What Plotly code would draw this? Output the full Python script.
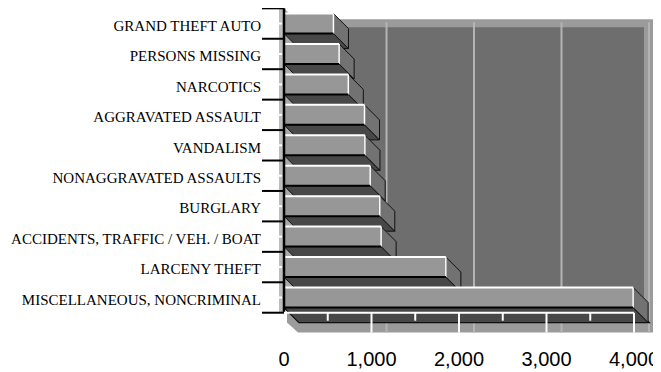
import plotly.graph_objects as go

# categories, top to bottom as they appear in the chart
categories = ["GRAND THEFT AUTO", "PERSONS MISSING", "NARCOTICS", "AGGRAVATED ASSAULT",
              "VANDALISM", "NONAGGRAVATED ASSAULTS", "BURGLARY",
              "ACCIDENTS, TRAFFIC / VEH. / BOAT", "LARCENY THEFT",
              "MISCELLANEOUS, NONCRIMINAL"]
counts = [565, 630, 735, 920, 925, 985, 1095, 1110, 1850, 3990]
x_ticks = [0, 1000, 2000, 3000, 4000]
x_ticktext = ["0", "1,000", "2,000", "3,000", "4,000"]

cats = categories[::-1]  # plotly puts index 0 at the bottom
vals = counts[::-1]
ypos = list(range(len(cats)))

# geometry in page pixels; the html body adds an 8px margin
OFF = 8
W, H = 661 - OFF, 372 - OFF
PLOT_L, PLOT_R, PLOT_T, PLOT_B = 262, 656, OFF, 340   # page pixels
X0_PX = 284          # page pixel where value 0 sits
Y0_PX = 297.5        # page pixel of the lowest category centre
UX = 1000 / 87.5     # value units per pixel
UY = 1 / 30.44       # category units per pixel

xmin = -(X0_PX - PLOT_L) * UX
xmax = (PLOT_R - X0_PX) * UX
ymax = (Y0_PX - PLOT_T) * UY
ymin = -(PLOT_B - Y0_PX) * UY

def px(n):
    return n * UX

def py(n):
    return n * UY

DX, DY = px(15), py(15)   # 3d depth offset (back plane is right / down)
HALF = py(10)             # half bar thickness
XMAX = x_ticks[-1]
ytop = len(cats) - 0.5
ybot = -0.5


def poly(pts, fill, line=None, lw=0, layer="below"):
    path = "M " + " L ".join(f"{x},{y}" for x, y in pts) + " Z"
    return dict(type="path", path=path, xref="x", yref="y", fillcolor=fill,
                line=dict(color=line or fill, width=lw), layer=layer)


def seg(x0, y0, x1, y1, color, w, layer="above"):
    return dict(type="line", x0=x0, y0=y0, x1=x1, y1=y1, xref="x", yref="y",
                line=dict(color=color, width=w), layer=layer)


shapes = []

# back wall with its lighter rim
y_fb = -HALF - DY                 # back edge of the floor
wall_bot = y_fb - py(10)
top_back = ytop - DY
xr = XMAX + DX
shapes.append(poly([(px(3), y_fb), (px(14), wall_bot), (xr + px(4), wall_bot),
                    (xr + px(4), top_back + py(4)), (px(3), top_back + py(4))], "#9b9b9b"))
shapes.append(poly([(DX, y_fb), (xr - px(5), y_fb), (xr - px(5), top_back - py(4)),
                    (DX, top_back - py(4))], "#6e6e6e"))
for t in x_ticks[1:]:
    shapes.append(seg(t + DX, wall_bot, t + DX, top_back + py(1), "#b4b4b4", 2, "below"))

# left wall and floor
shapes.append(poly([(0, ytop), (DX, ytop - DY), (DX, -HALF - DY), (0, -HALF)], "#a9a9a9"))
shapes.append(poly([(0, -HALF), (XMAX, -HALF), (XMAX + DX, -HALF - DY), (DX, -HALF - DY)],
                   "#474747", "black", 1.5))

# bar bottoms and sides, drawn from the top bar down so lower bars overlap
for i in reversed(ypos):
    v = vals[i]
    top, bot = i + HALF, i - HALF
    shapes.append(poly([(0, bot), (v, bot), (v + DX, bot - DY), (DX, bot - DY)],
                       "#484848", "#111111", 1))
    shapes.append(poly([(v, top), (v + DX, top - DY), (v + DX, bot - DY), (v, bot)],
                       "#727272", "#111111", 1))

# front face edges
for i in ypos:
    v = vals[i]
    top, bot = i + HALF, i - HALF
    shapes.append(seg(0, top, v, top, "white", 2))
    shapes.append(seg(v, bot, v, top, "white", 1.5))
    shapes.append(seg(0, bot, v, bot, "black", 2))

# category axis: grey strip, white centre dashes, black boundary ticks, axis line
shapes.append(dict(type="rect", x0=-px(5), x1=-px(1), y0=ybot, y1=ytop, xref="x", yref="y",
                   fillcolor="#bdbdbd", line=dict(width=0), layer="above"))
for i in ypos:
    shapes.append(seg(-px(6), i, -px(2), i, "white", 2))
for k in range(len(cats) + 1):
    shapes.append(seg(xmin, k - 0.5, 0, k - 0.5, "black", 2))
shapes.append(seg(0, ybot, 0, ytop, "black", 2.5))

# value axis on the floor
shapes.append(seg(0, ybot, XMAX, ybot, "white", 2))
for t in x_ticks[1:]:
    shapes.append(seg(t, ybot, t, wall_bot, "white", 2))
for a, b in zip(x_ticks[:-1], x_ticks[1:]):
    m = (a + b) / 2
    shapes.append(seg(m, ybot, m, ybot - py(8), "white", 2))

fig = go.Figure(go.Bar(
    x=vals, y=ypos, orientation="h", width=2 * HALF,
    marker=dict(color="#979797", line=dict(width=0)),
    hoverinfo="skip",
))

fig.update_layout(
    width=W, height=H,
    margin=dict(l=PLOT_L - OFF, r=W - (PLOT_R - OFF), t=PLOT_T - OFF, b=H - (PLOT_B - OFF)),
    paper_bgcolor="white", plot_bgcolor="white",
    showlegend=False,
    shapes=shapes,
    xaxis=dict(range=[xmin, xmax], tickvals=x_ticks, ticktext=x_ticktext,
               showgrid=False, zeroline=False, showline=False, ticks="",
               ticklabelstandoff=5,
               tickfont=dict(family="Liberation Sans, Arial", size=20, color="black")),
    yaxis=dict(range=[ymin, ymax], tickvals=ypos, ticktext=cats,
               showgrid=False, zeroline=False, showline=False, ticks="",
               ticklabelshift=2,
               tickfont=dict(family="Liberation Serif, Times New Roman", size=15, color="black")),
)

fig.write_html("out.html")
